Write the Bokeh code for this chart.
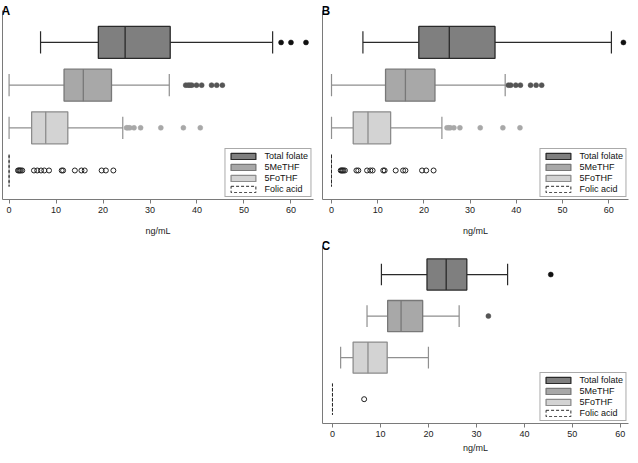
from bokeh.plotting import figure
from bokeh.models import Range1d, FixedTicker, Legend, LegendItem, Spacer, Label
from bokeh.layouts import row, column
from bokeh.embed import file_html
from bokeh.resources import INLINE

# ---------------- data ----------------
series = ["Total folate", "5MeTHF", "5FoTHF", "Folic acid"]
ypos = [4, 3, 2, 1]
x_ticks = [0, 10, 20, 30, 40, 50, 60]

# Panel A
A_low = [6.7, 0.0, 0.0, 0.0]
A_q1 = [19.0, 11.7, 4.8, 0.0]
A_med = [24.7, 15.8, 7.8, 0.0]
A_q3 = [34.3, 21.8, 12.5, 0.0]
A_high = [56.1, 34.1, 24.2, 0.0]
A_out_total = [57.9, 60.0, 63.2]
A_out_me = [37.6, 38.1, 38.5, 38.9, 39.9, 41.0, 43.1, 44.2, 45.4]
A_out_fo = [25.0, 25.3, 25.7, 26.6, 28.0, 32.3, 37.1, 40.7]
A_out_fa = [1.9, 2.1, 2.3, 2.5, 2.8, 5.3, 6.0, 6.8, 7.5, 8.5, 11.2, 11.5,
            14.0, 15.4, 16.1, 19.7, 20.6, 22.2]

# Panel B
B_low = [6.8, 0.0, 0.0, 0.0]
B_q1 = [18.9, 11.7, 4.7, 0.0]
B_med = [25.5, 16.0, 7.9, 0.0]
B_q3 = [35.4, 22.4, 12.8, 0.0]
B_high = [60.6, 37.6, 23.9, 0.0]
B_out_total = [63.2]
B_out_me = [38.3, 38.8, 39.9, 40.9, 43.1, 44.3, 45.5]
B_out_fo = [25.0, 25.4, 25.7, 26.5, 27.8, 32.2, 37.1, 40.8]
B_out_fa = [2.0, 2.2, 2.4, 2.6, 2.9, 5.4, 5.8, 7.7, 8.4, 8.9, 11.2, 11.5,
            13.9, 15.5, 16.0, 19.6, 20.5, 22.1]

# Panel C
C_low = [10.2, 7.2, 1.7, 0.0]
C_q1 = [19.7, 11.5, 4.3, 0.0]
C_med = [23.7, 14.3, 7.4, 0.0]
C_q3 = [28.0, 18.8, 11.4, 0.0]
C_high = [36.5, 26.4, 20.0, 0.0]
C_out_total = [45.5]
C_out_me = [32.5]
C_out_fo = []
C_out_fa = [6.6]

# ---------------- style ----------------
FONT = "Liberation Sans"
box_fill = ["#7f7f7f", "#a8a8a8", "#d3d3d3", None]
box_line = ["#2a2a2a", "#787878", "#8c8c8c", "#2a2a2a"]
whisk_line = ["#2a2a2a", "#8e8e8e", "#909090", "#2a2a2a"]
out_fill = ["#111111", "#555555", "#a8a8a8", None]
out_line = ["#111111", "#555555", "#a8a8a8", "#222222"]
BOX_H = 0.75
CAP_H = 0.52


def panel(label, xr, yr, spine_top, low, q1, med, q3, high, outs, width, height,
          border_left, border_right, border_bottom, label_standoff):
    p = figure(width=width, height=height,
               x_range=Range1d(*xr), y_range=Range1d(*yr),
               output_backend="svg", toolbar_location=None,
               min_border_left=border_left, min_border_right=border_right,
               min_border_top=1, min_border_bottom=border_bottom)
    p.grid.visible = False
    p.outline_line_color = None
    p.background_fill_color = "white"
    p.border_fill_color = "white"

    p.add_layout(Label(x=xr[0], y=spine_top, text=label, x_offset=-1, y_offset=-1,
                       text_baseline="alphabetic", text_align="left",
                       text_font=FONT, text_font_size="12px",
                       text_font_style="bold", text_color="black"))

    p.yaxis.ticker = FixedTicker(ticks=[])
    p.yaxis.bounds = (yr[0], spine_top)
    p.yaxis.major_label_text_font_size = "0px"
    p.yaxis.major_tick_line_color = None
    p.yaxis.minor_tick_line_color = None
    p.yaxis.major_label_standoff = 0
    p.yaxis.axis_line_color = "#7a7a7a"

    p.xaxis.ticker = FixedTicker(ticks=x_ticks)
    p.xaxis.axis_line_color = "#7a7a7a"
    p.xaxis.major_tick_line_color = "#7a7a7a"
    p.xaxis.minor_tick_line_color = None
    p.xaxis.major_tick_out = 4
    p.xaxis.major_tick_in = 0
    p.xaxis.major_label_standoff = 3
    p.xaxis.major_label_text_font = FONT
    p.xaxis.major_label_text_font_size = "9px"
    p.xaxis.major_label_text_color = "#222222"
    p.xaxis.axis_label = "ng/mL"
    p.xaxis.axis_label_text_font = FONT
    p.xaxis.axis_label_text_font_size = "9px"
    p.xaxis.axis_label_text_font_style = "normal"
    p.xaxis.axis_label_text_color = "#222222"
    p.xaxis.axis_label_standoff = label_standoff

    items = []
    for i, name in enumerate(series):
        y = ypos[i]
        lw = 1.3 if box_fill[i] is not None else 1.0
        # whiskers and caps (only where a whisker exists)
        if q1[i] > low[i]:
            p.segment(x0=[low[i]], y0=[y], x1=[q1[i]], y1=[y],
                      line_color=whisk_line[i], line_width=1.2)
            p.segment(x0=[low[i]], y0=[y - CAP_H / 2], x1=[low[i]], y1=[y + CAP_H / 2],
                      line_color=whisk_line[i], line_width=1.2)
        elif q3[i] > q1[i]:
            p.segment(x0=[low[i]], y0=[y - CAP_H / 2], x1=[low[i]], y1=[y + CAP_H / 2],
                      line_color=whisk_line[i], line_width=1.2)
        if high[i] > q3[i]:
            p.segment(x0=[q3[i]], y0=[y], x1=[high[i]], y1=[y],
                      line_color=whisk_line[i], line_width=1.2)
            p.segment(x0=[high[i]], y0=[y - CAP_H / 2], x1=[high[i]], y1=[y + CAP_H / 2],
                      line_color=whisk_line[i], line_width=1.2)
        # box
        if box_fill[i] is None:
            r = p.hbar(y=[y], left=[q1[i]], right=[q3[i]], height=BOX_H,
                       fill_color=None, line_color=box_line[i], line_width=lw,
                       line_dash="3 2")
        else:
            r = p.hbar(y=[y], left=[q1[i]], right=[q3[i]], height=BOX_H,
                       fill_color=box_fill[i], line_color=box_line[i], line_width=lw)
        # median
        if q3[i] > q1[i]:
            p.segment(x0=[med[i]], y0=[y - BOX_H / 2], x1=[med[i]], y1=[y + BOX_H / 2],
                      line_color=box_line[i], line_width=lw)
        # outliers
        o = outs[i]
        if len(o):
            if out_fill[i] is None:
                p.scatter(x=o, y=[y] * len(o), size=5, marker="circle",
                          fill_color="white", fill_alpha=0.0,
                          line_color=out_line[i], line_width=1.0)
            else:
                p.scatter(x=o, y=[y] * len(o), size=5, marker="circle",
                          fill_color=out_fill[i], line_color=out_line[i], line_width=0.5)
        items.append(LegendItem(label=name, renderers=[r]))

    leg = Legend(items=items, location="bottom_right", margin=2, padding=2,
                 spacing=1, glyph_width=31, glyph_height=8, label_height=9,
                 label_standoff=6, label_text_font=FONT, label_text_font_size="9px",
                 label_text_color="#111111", border_line_color="#555555",
                 border_line_width=1, background_fill_alpha=1.0)
    p.add_layout(leg)
    return p


pA = panel("A", (-1.4, 64.8), (0.32, 4.96), 4.75, A_low, A_q1, A_med, A_q3, A_high,
           [A_out_total, A_out_me, A_out_fo, A_out_fa],
           width=316, height=238, border_left=2, border_right=3,
           border_bottom=39, label_standoff=10)
pB = panel("B", (-1.95, 64.3), (0.32, 4.96), 4.75, B_low, B_q1, B_med, B_q3, B_high,
           [B_out_total, B_out_me, B_out_fo, B_out_fa],
           width=314, height=238, border_left=6, border_right=2,
           border_bottom=39, label_standoff=10)
pC = panel("C", (-2.08, 61.7), (0.415, 4.843), 4.70, C_low, C_q1, C_med, C_q3, C_high,
           [C_out_total, C_out_me, C_out_fo, C_out_fa],
           width=314, height=217, border_left=6, border_right=2,
           border_bottom=27, label_standoff=3)

layout = column(row(pA, pB), row(Spacer(width=316, height=217), pC))

open("out.html", "w").write(file_html(layout, INLINE))
